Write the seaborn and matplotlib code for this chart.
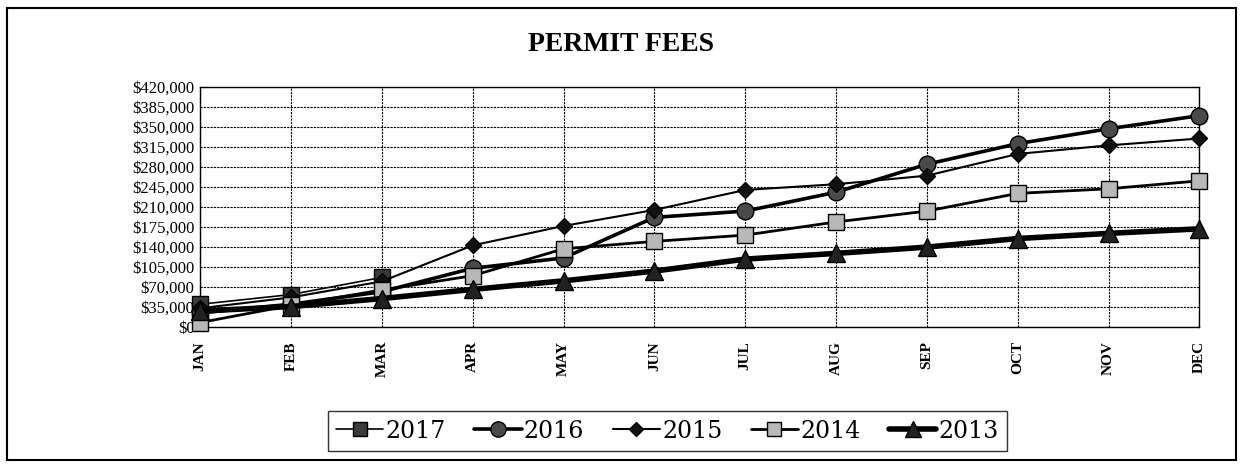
import numpy as np
import pandas as pd
import matplotlib
matplotlib.use("Agg")
import matplotlib.pyplot as plt
import seaborn as sns
from matplotlib.ticker import FuncFormatter, MultipleLocator
from matplotlib.patches import Rectangle

months = ['JAN', 'FEB', 'MAR', 'APR', 'MAY', 'JUN', 'JUL', 'AUG', 'SEP', 'OCT', 'NOV', 'DEC']

fees_2017 = [40000, 57000, 87000]
fees_2016 = [25000, 40000, 62000, 103000, 121000, 192000, 203000, 236000, 285000, 321000, 347000, 370000]
fees_2015 = [33000, 52000, 80000, 143000, 177000, 205000, 240000, 250000, 265000, 303000, 318000, 330000]
fees_2014 = [8000, 38000, 65000, 90000, 137000, 150000, 161000, 184000, 203000, 234000, 242000, 256000]
fees_2013 = [28000, 36000, 50000, 66000, 81000, 98000, 119000, 129000, 140000, 155000, 164000, 172000]

series = {'2017': fees_2017, '2016': fees_2016, '2015': fees_2015,
          '2014': fees_2014, '2013': fees_2013}

rows = []
for year, vals in series.items():
    for i, v in enumerate(vals):
        rows.append({'year': year, 'month': i, 'fee': v})
df = pd.DataFrame(rows)

# marker / line style per year
styles = {
    '2017': dict(marker='s', markersize=11, markerfacecolor='#3a3a3a', linewidth=1.2),
    '2016': dict(marker='o', markersize=12, markerfacecolor='#4a4a4a', linewidth=2.6),
    '2015': dict(marker='D', markersize=8, markerfacecolor='#111111', linewidth=1.5),
    '2014': dict(marker='s', markersize=11, markerfacecolor='#b8b8b8', linewidth=2.0),
    '2013': dict(marker='^', markersize=13, markerfacecolor='#222222', linewidth=4.0),
}

sns.set_style('white')
plt.rcParams['font.family'] = ['Liberation Serif', 'DejaVu Serif']
plt.rcParams['text.color'] = 'black'
plt.rcParams['xtick.color'] = 'black'
plt.rcParams['ytick.color'] = 'black'

fig = plt.figure(figsize=(12.43, 4.68), dpi=100)
ax = fig.add_axes([0.161, 0.301, 0.804, 0.513])

handles = []
for year in series:
    st = styles[year]
    sub = df[df['year'] == year]
    sns.lineplot(data=sub, x='month', y='fee', ax=ax, color='black',
                 marker=st['marker'], markersize=st['markersize'],
                 markerfacecolor=st['markerfacecolor'], markeredgecolor='black',
                 markeredgewidth=1.0, linewidth=st['linewidth'], clip_on=False,
                 zorder=3, legend=False)
    h, = ax.plot([], [], color='black', marker=st['marker'], markersize=st['markersize'] - 1,
                 markerfacecolor=st['markerfacecolor'], markeredgecolor='black',
                 linewidth=st['linewidth'], label=year)
    handles.append(h)

ax.set_xlim(0, 11)
ax.set_ylim(0, 420000)
ax.yaxis.set_major_locator(MultipleLocator(35000))
ax.yaxis.set_major_formatter(FuncFormatter(lambda v, p: '${:,.0f}'.format(v)))
ax.set_xticks(range(12))
ax.set_xticklabels(months, rotation=90, fontweight='bold', fontsize=11)
ax.tick_params(axis='y', labelsize=12, length=0, pad=4)
ax.tick_params(axis='x', length=0, pad=10)
ax.set_xlabel('')
ax.set_ylabel('')
ax.grid(True, color='black', linestyle=(0, (2, 1)), linewidth=0.8)
for s in ax.spines.values():
    s.set_color('black')
    s.set_linewidth(1.0)

fig.text(0.5, 0.905, 'PERMIT FEES', ha='center', va='center',
         fontsize=20, fontweight='bold', color='black')

leg = fig.legend(handles=handles, loc='center', bbox_to_anchor=(0.537, 0.079),
                 ncol=5, frameon=True, fancybox=False, edgecolor='black',
                 prop={'family': 'DejaVu Serif', 'size': 17},
                 handlelength=2.0, handletextpad=0.1, columnspacing=1.2,
                 borderpad=0.35)
leg.get_frame().set_linewidth(1.0)

fig.patches.append(Rectangle((0.006, 0.017), 0.988, 0.966, transform=fig.transFigure,
                             fill=False, edgecolor='black', linewidth=1.5))

fig.savefig('out.png', dpi=100)
